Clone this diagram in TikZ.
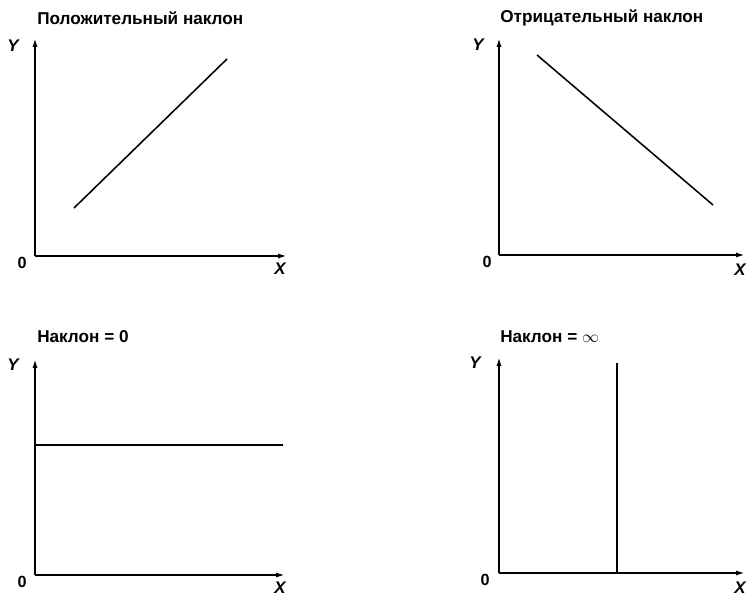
\documentclass[tikz,border=0pt]{standalone}
\usepackage{fontspec}
\setmainfont{Liberation Sans}
\usetikzlibrary{arrows.meta}

\begin{document}
\begin{tikzpicture}[
    x=0.025cm, y=-0.025cm,
    axis/.style={line width=1.6pt, -{Latex[length=7pt, width=3.5pt]}},
    graph/.style={line width=1.1pt},
    title/.style={anchor=west, inner sep=0pt, font=\bfseries\fontsize{12.2}{14}\selectfont},
    axlbl/.style={inner sep=0pt, font=\bfseries\itshape\fontsize{12}{14}\selectfont},
    zero/.style={inner sep=0pt, font=\bfseries\fontsize{11.5}{13}\selectfont}
]
    \useasboundingbox (0,0) rectangle (748,596);

    % Positive slope
    \coordinate (o1) at (35,256);
    \coordinate (x1) at (288,256);
    \coordinate (y1) at (35,37);
    \coordinate (a1) at (74,208);
    \coordinate (b1) at (227,59);
    \node[title] (t1) at (37,18) {Положительный наклон};
    \node[axlbl] (ly1) at (13,46) {Y};
    \node[axlbl] (lx1) at (280,269) {X};
    \node[zero] (z1) at (22,263) {0};
    \draw[axis] (o1) -- (x1);
    \draw[axis] (o1) -- (y1);
    \draw[graph] (a1) -- (b1);

    % Negative slope
    \coordinate (o2) at (499,255);
    \coordinate (x2) at (746,255);
    \coordinate (y2) at (499,37);
    \coordinate (a2) at (537,55);
    \coordinate (b2) at (713,205);
    \node[title] (t2) at (500,18) {Отрицательный наклон};
    \node[axlbl] (ly2) at (478,45) {Y};
    \node[axlbl] (lx2) at (740,270) {X};
    \node[zero] (z2) at (487,262) {0};
    \draw[axis] (o2) -- (x2);
    \draw[axis] (o2) -- (y2);
    \draw[graph] (a2) -- (b2);

    % Zero slope
    \coordinate (o3) at (35,575);
    \coordinate (x3) at (286,575);
    \coordinate (y3) at (35,358);
    \coordinate (a3) at (35,445);
    \coordinate (b3) at (283,445);
    \node[title] (t3) at (37,337) {Наклон = 0};
    \node[axlbl] (ly3) at (13,365) {Y};
    \node[axlbl] (lx3) at (280,588) {X};
    \node[zero] (z3) at (22,582) {0};
    \draw[axis] (o3) -- (x3);
    \draw[axis] (o3) -- (y3);
    \draw[graph] (a3) -- (b3);

    % Infinite slope
    \coordinate (o4) at (499,573);
    \coordinate (x4) at (746,573);
    \coordinate (y4) at (499,356);
    \coordinate (a4) at (617,573);
    \coordinate (b4) at (617,363);
    \node[title] (t4) at (500,337) {Наклон = $\infty$};
    \node[axlbl] (ly4) at (475,363) {Y};
    \node[axlbl] (lx4) at (740,588) {X};
    \node[zero] (z4) at (485,580) {0};
    \draw[axis] (o4) -- (x4);
    \draw[axis] (o4) -- (y4);
    \draw[graph] (a4) -- (b4);
\end{tikzpicture}
\end{document}
